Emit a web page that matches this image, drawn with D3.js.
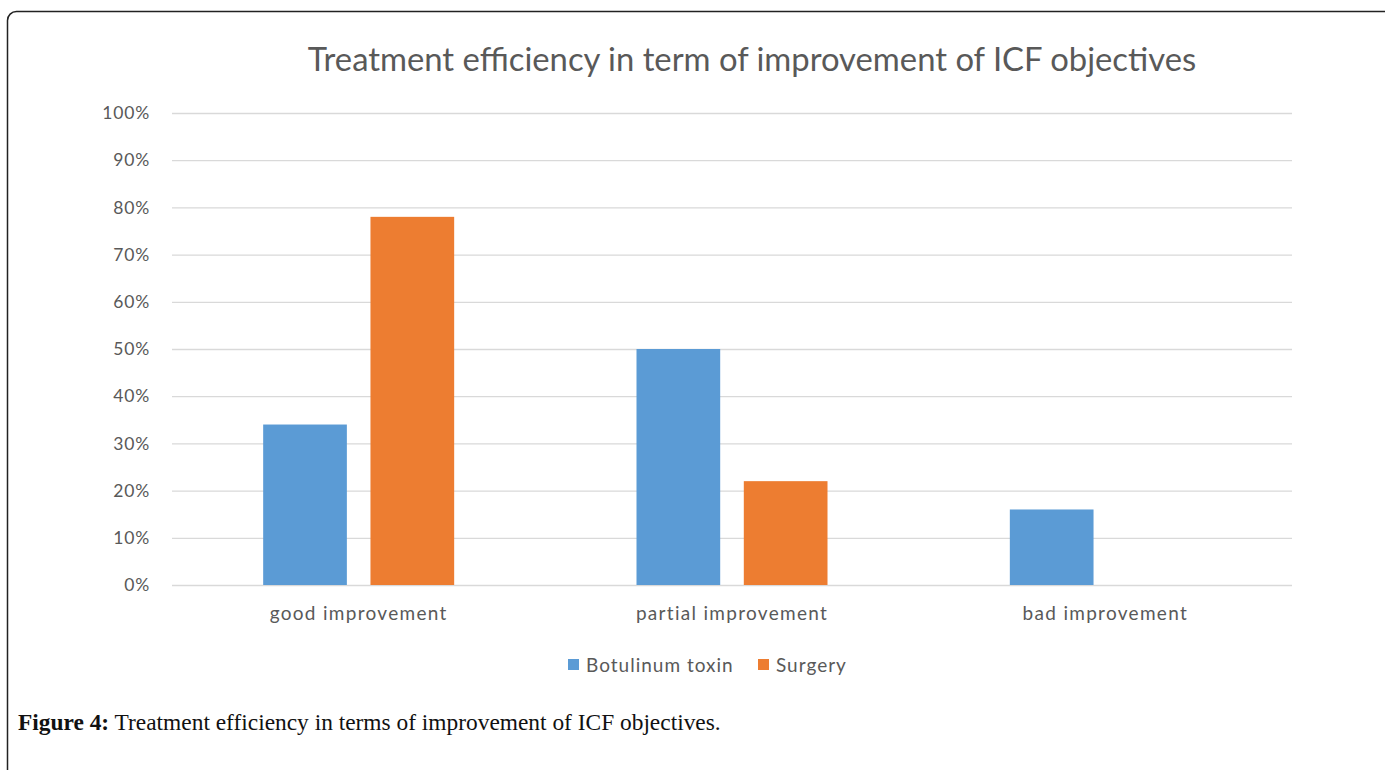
<!DOCTYPE html>
<html lang="en">
  <head>
    <meta charset="utf-8">
    <title>Treatment efficiency</title>
    <script src="https://unpkg.com/d3@7/dist/d3.min.js"></script>
    <style type="text/css">
body,html{
    margin: 0;
    padding: 0;
    background: #fff;
  }
    </style>
  </head>
  <body>
    <script type="text/javascript">
      const categories = ["good improvement", "partial improvement", "bad improvement"];
      const seriesNames = ["Botulinum toxin", "Surgery"];
      const botulinum = [0.34, 0.50, 0.16];
      const surgery = [0.78, 0.22, 0];
      const yTicks = [0, 0.1, 0.2, 0.3, 0.4, 0.5, 0.6, 0.7, 0.8, 0.9, 1.0];
      const colors = ["#5b9bd5", "#ed7d31"];

      const w = 1385;
      const h = 770;
      const margin = {top: 113, bottom: 185, left: 172, right: 93};
      const font = "Lato, 'Open Sans', sans-serif";

      const svg = d3.select("body")
        .append("svg")
        .attr("width", w)
        .attr("height", h);

      // outer frame with rounded corner
      svg.append("rect")
        .attr("x", 7.5).attr("y", 11.5)
        .attr("width", 1400).attr("height", 800)
        .attr("rx", 9)
        .attr("fill", "none")
        .attr("stroke", "#222")
        .attr("stroke-width", 1.5);

      const x = d3.scaleBand()
        .domain(categories)
        .range([margin.left, w - margin.right]);

      const xInner = d3.scaleBand()
        .domain(seriesNames)
        .range([0, 191])
        .paddingInner(0.22);

      const y = d3.scaleLinear()
        .domain([0, 1])
        .range([h - margin.bottom, margin.top]);

      // title
      svg.append("text")
        .attr("x", 752).attr("y", 71)
        .attr("text-anchor", "middle")
        .style("font-family", font)
        .style("font-size", "32.8px")
        .style("fill", "#595959")
        .text("Treatment efficiency in term of improvement of ICF objectives");

      // gridlines + y axis
      const yAxis = d3.axisLeft(y)
        .tickValues(yTicks)
        .tickFormat(d3.format(".0%"))
        .tickSize(-(w - margin.left - margin.right))
        .tickPadding(22);

      const gy = svg.append("g")
        .attr("transform", "translate(" + margin.left + ",0)")
        .call(yAxis);
      gy.select(".domain").remove();
      gy.selectAll(".tick line").attr("stroke", "#d9d9d9").attr("stroke-width", 1.3);
      gy.selectAll(".tick text")
        .style("font-family", font)
        .style("font-size", "17.5px")
        .style("letter-spacing", "0.8px")
        .style("fill", "#595959");

      // bars
      const data = [botulinum, surgery];
      categories.forEach(function(c, i) {
        const groupStart = x(c) + x.bandwidth() / 2 - 95.5;
        seriesNames.forEach(function(s, j) {
          const v = data[j][i];
          if (v > 0) {
            svg.append("rect")
              .attr("x", groupStart + xInner(s))
              .attr("y", y(v))
              .attr("width", xInner.bandwidth())
              .attr("height", y(0) - y(v))
              .attr("fill", colors[j]);
          }
        });
      });

      // x axis labels
      const xAxis = d3.axisBottom(x).tickSize(0).tickPadding(22);
      const gx = svg.append("g")
        .attr("transform", "translate(0," + y(0) + ")")
        .call(xAxis);
      gx.select(".domain").remove();
      gx.selectAll(".tick text")
        .style("font-family", font)
        .style("font-size", "19px")
        .style("letter-spacing", "1.3px")
        .style("fill", "#595959");

      // legend
      const legendX = [568, 758];
      seriesNames.forEach(function(s, j) {
        svg.append("rect")
          .attr("x", legendX[j]).attr("y", 659)
          .attr("width", 11).attr("height", 11)
          .attr("fill", colors[j]);
        svg.append("text")
          .attr("x", legendX[j] + 18).attr("y", 672)
          .style("font-family", font)
          .style("font-size", "19px")
          .style("letter-spacing", "1px")
          .style("fill", "#595959")
          .text(s);
      });

      // caption
      const cap = svg.append("text")
        .attr("x", 18).attr("y", 730)
        .style("font-family", "'Liberation Serif', serif")
        .style("font-size", "23.4px")
        .style("fill", "#111");
      cap.append("tspan").style("font-weight", "bold").text("Figure 4:");
      cap.append("tspan").text(" Treatment efficiency in terms of improvement of ICF objectives.");
    </script>
  </body>
</html>
